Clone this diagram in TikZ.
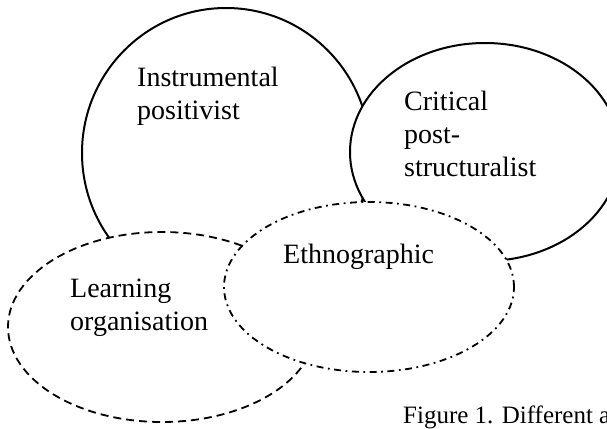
\documentclass[tikz,border=0pt]{standalone}
\usepackage{fontspec}
\setmainfont{Liberation Serif}
\usetikzlibrary{shapes.geometric}
\begin{document}
\begin{tikzpicture}[x=1pt,y=-1pt,
  blob/.style={ellipse, inner sep=0pt, outer sep=0pt, fill=white},
  solidline/.style={draw=black, line width=2pt},
  dashline/.style={draw=black, line width=1.8pt, dash pattern=on 8pt off 5pt},
  dotdashline/.style={draw=black, line width=1.8pt, dash pattern=on 7pt off 4.5pt on 1.8pt off 4.5pt},
  lbl/.style={anchor=base west, inner sep=0pt, align=left, font=\fontsize{28}{33}\selectfont},
  captxt/.style={anchor=base west, inner sep=0pt, font=\fontsize{25}{30}\selectfont}]
\useasboundingbox (0,0) rectangle (607,428);
\clip (0,0) rectangle (607,428);
\fill[white] (0,0) rectangle (607,428);
% shapes, back to front
\node[blob, solidline, minimum width=288pt, minimum height=290pt] (instr) at (226,153) {};
\node[blob, solidline, minimum width=270pt, minimum height=218pt] (crit) at (485,152) {};
\node[blob, dashline, minimum width=308pt, minimum height=190pt] (learn) at (162,327) {};
\node[blob, dotdashline, minimum width=290pt, minimum height=170pt] (ethno) at (369,287) {};
% labels (base anchor = baseline of the last line)
\node[lbl] (tinstr) at (137,119) {Instrumental\\positivist};
\node[lbl] (tcrit) at (404,176) {Critical\\post-\\structuralist};
\node[lbl] (tethno) at (283,263) {Ethnographic};
\node[lbl] (tlearn) at (70,330) {Learning\\organisation};
\node[captxt] (tcap) at (403,423) {Figure 1. Different a};
\end{tikzpicture}
\end{document}
